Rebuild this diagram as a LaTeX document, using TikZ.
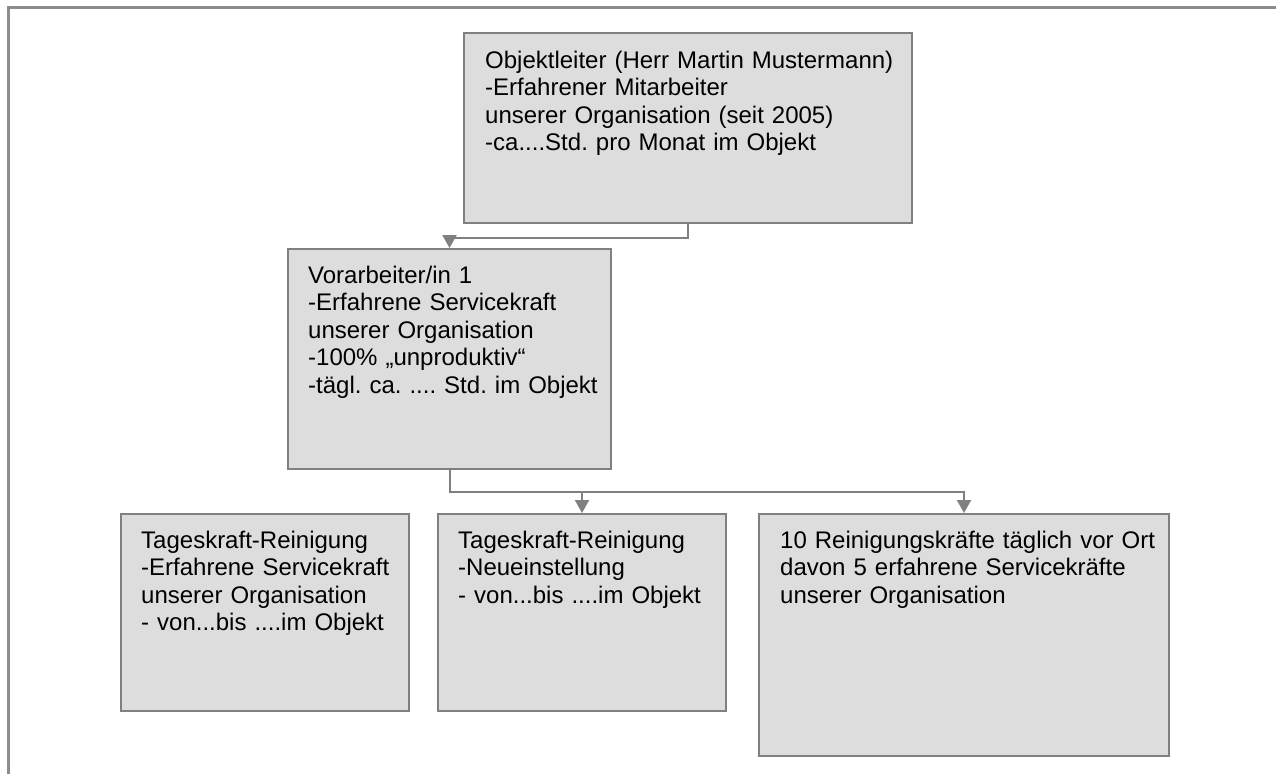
\documentclass[tikz,border=0pt]{standalone}
\usepackage{fontspec}
\setmainfont{Liberation Sans}
\usetikzlibrary{arrows.meta}
\definecolor{boxgray}{HTML}{DDDDDD}
\definecolor{linegray}{HTML}{808080}
\definecolor{framegray}{HTML}{8C8C8C}
\frenchspacing
\tikzset{
  orgbox/.style={draw=linegray,fill=boxgray,line width=2pt,anchor=north west,inner sep=0pt},
  orgtext/.style={anchor=base west,inner sep=0pt,text width=420pt,align=left,font=\fontsize{24}{27.6}\selectfont\frenchspacing},
  conn/.style={draw=linegray,line width=2pt,-{Triangle[length=13pt,width=14pt]}}
}
\begin{document}
\begin{tikzpicture}[x=1pt,y=-1pt]
\useasboundingbox (0,0) rectangle (1276,774);
\draw[framegray,line width=3pt] (8,774) -- (8,7) -- (1276,7);
\node[orgbox,minimum width=448pt,minimum height=190pt] (obj) at (463,32) {};
\node[orgbox,minimum width=323pt,minimum height=220pt] (vor) at (287,248) {};
\node[orgbox,minimum width=288pt,minimum height=197pt] (tag) at (120,513) {};
\node[orgbox,minimum width=288pt,minimum height=197pt] (neu) at (437,513) {};
\node[orgbox,minimum width=410pt,minimum height=242pt] (team) at (758,513) {};
\node[orgtext] (objtxt) at ([shift={(22,36)}]obj.north west) {Objektleiter (Herr Martin Mustermann)\\-Erfahrener Mitarbeiter\\unserer Organisation (seit 2005)\\-ca....Std. pro Monat im Objekt};
\node[orgtext] (vortxt) at ([shift={(21,35)}]vor.north west) {Vorarbeiter/in 1\\-Erfahrene Servicekraft\\unserer Organisation\\-100\% „unproduktiv“\\-tägl. ca. .... Std. im Objekt};
\node[orgtext] (tagtxt) at ([shift={(21,35)}]tag.north west) {Tageskraft-Reinigung\\-Erfahrene Servicekraft\\unserer Organisation\\- von...bis ....im Objekt};
\node[orgtext] (neutxt) at ([shift={(21,35)}]neu.north west) {Tageskraft-Reinigung\\-Neueinstellung\\- von...bis ....im Objekt};
\node[orgtext] (teamtxt) at ([shift={(22,35)}]team.north west) {10 Reinigungskräfte täglich vor Ort\\davon 5 erfahrene Servicekräfte\\unserer Organisation};
\draw[conn] (obj.south) -- ++(0,14) -| (vor.north);
\draw[conn] (vor.south) -- ++(0,22) -| (neu.north);
\draw[conn] (vor.south) -- ++(0,22) -| (team.north);
\end{tikzpicture}
\end{document}
